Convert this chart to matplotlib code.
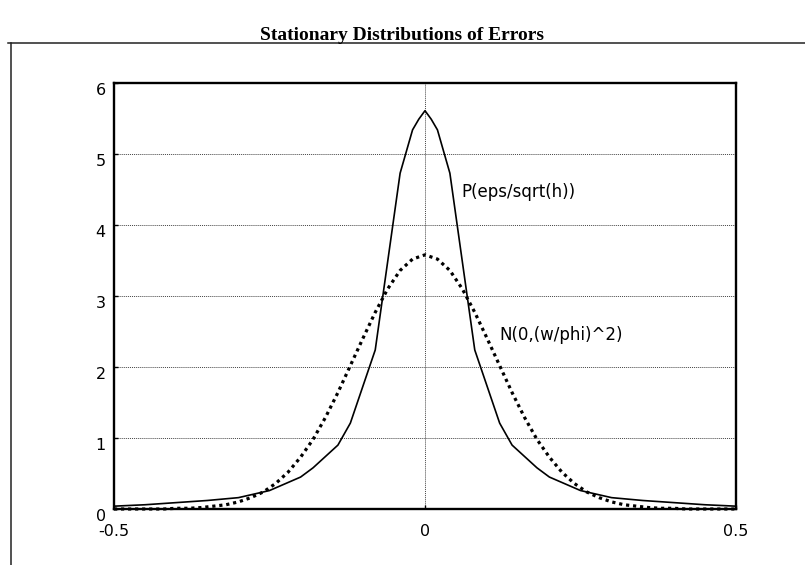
import matplotlib
matplotlib.use("Agg")
import matplotlib.pyplot as plt
from matplotlib.lines import Line2D

# Data
x_normal = [-0.50, -0.48, -0.46, -0.44, -0.42, -0.40, -0.38, -0.36, -0.34, -0.32,
            -0.30, -0.28, -0.26, -0.24, -0.22, -0.20, -0.18, -0.16, -0.14, -0.12,
            -0.10, -0.08, -0.06, -0.04, -0.02, 0.00, 0.02, 0.04, 0.06, 0.08,
            0.10, 0.12, 0.14, 0.16, 0.18, 0.20, 0.22, 0.24, 0.26, 0.28,
            0.30, 0.32, 0.34, 0.36, 0.38, 0.40, 0.42, 0.44, 0.46, 0.48, 0.50]
y_normal = [0.00, 0.00, 0.00, 0.00, 0.00, 0.01, 0.01, 0.02, 0.04, 0.06,
            0.10, 0.16, 0.24, 0.36, 0.52, 0.73, 0.98, 1.29, 1.64, 2.02,
            2.40, 2.77, 3.10, 3.36, 3.52, 3.58, 3.52, 3.36, 3.10, 2.77,
            2.40, 2.02, 1.64, 1.29, 0.98, 0.73, 0.52, 0.36, 0.24, 0.16,
            0.10, 0.06, 0.04, 0.02, 0.01, 0.01, 0.00, 0.00, 0.00, 0.00, 0.00]

x_p = [-0.50, -0.45, -0.40, -0.35, -0.30, -0.25, -0.20, -0.18, -0.16, -0.14,
       -0.12, -0.08, -0.04, -0.02, -0.01, 0.00, 0.01, 0.02, 0.04, 0.08,
       0.12, 0.14, 0.16, 0.18, 0.20, 0.25, 0.30, 0.35, 0.40, 0.45, 0.50]
y_p = [0.04, 0.06, 0.09, 0.12, 0.16, 0.26, 0.45, 0.58, 0.74, 0.90,
       1.21, 2.24, 4.73, 5.34, 5.49, 5.61, 5.49, 5.34, 4.73, 2.24,
       1.21, 0.90, 0.74, 0.58, 0.45, 0.26, 0.16, 0.12, 0.09, 0.06, 0.04]

x_ticks = [-0.5, 0, 0.5]
x_labels = ["-0.5", "0", "0.5"]
y_ticks = [0, 1, 2, 3, 4, 5, 6]

title = "Stationary Distributions of Errors"
label_p = "P(eps/sqrt(h))"
label_n = "N(0,(w/phi)^2)"

plt.rcParams["font.family"] = ["DejaVu Sans"]

fig = plt.figure(figsize=(8.05, 5.65), dpi=100, facecolor="white")
ax = fig.add_axes([0.1416, 0.0991, 0.7727, 0.754])

ax.plot(x_p, y_p, color="black", lw=1.2, clip_on=False, zorder=3)
ax.plot(x_normal, y_normal, color="black", lw=2.3, linestyle=(0, (1, 1.2)),
        clip_on=False, zorder=3)

ax.set_xlim(-0.5, 0.5)
ax.set_ylim(0, 6)
ax.set_xticks(x_ticks, labels=x_labels)
ax.set_yticks(y_ticks)
for t in ax.get_yticklabels():
    t.set_verticalalignment("top")
ax.tick_params(direction="in", length=3, width=1, labelsize=11.5, pad=6)
ax.tick_params(axis="x", pad=11)
ax.grid(True, color="#444444", linestyle=(0, (1, 1)), lw=0.7)
for s in ax.spines.values():
    s.set_linewidth(1.7)

ax.text(0.058, 4.47, label_p, fontsize=12, va="center", ha="left")
ax.text(0.120, 2.45, label_n, fontsize=12, va="center", ha="left")

fig.text(0.499, 1 - 40 / 565, title, fontsize=14, fontweight="bold",
         family="Liberation Serif", ha="center", va="baseline")

# outer frame of the page
fig.add_artist(Line2D([8 / 805, 1], [1 - 43 / 565, 1 - 43 / 565],
                      transform=fig.transFigure, color="#222222", lw=1.1))
fig.add_artist(Line2D([11 / 805, 11 / 805], [1 - 43 / 565, 0],
                      transform=fig.transFigure, color="#222222", lw=1.1))

fig.savefig("out.png", dpi=100)
